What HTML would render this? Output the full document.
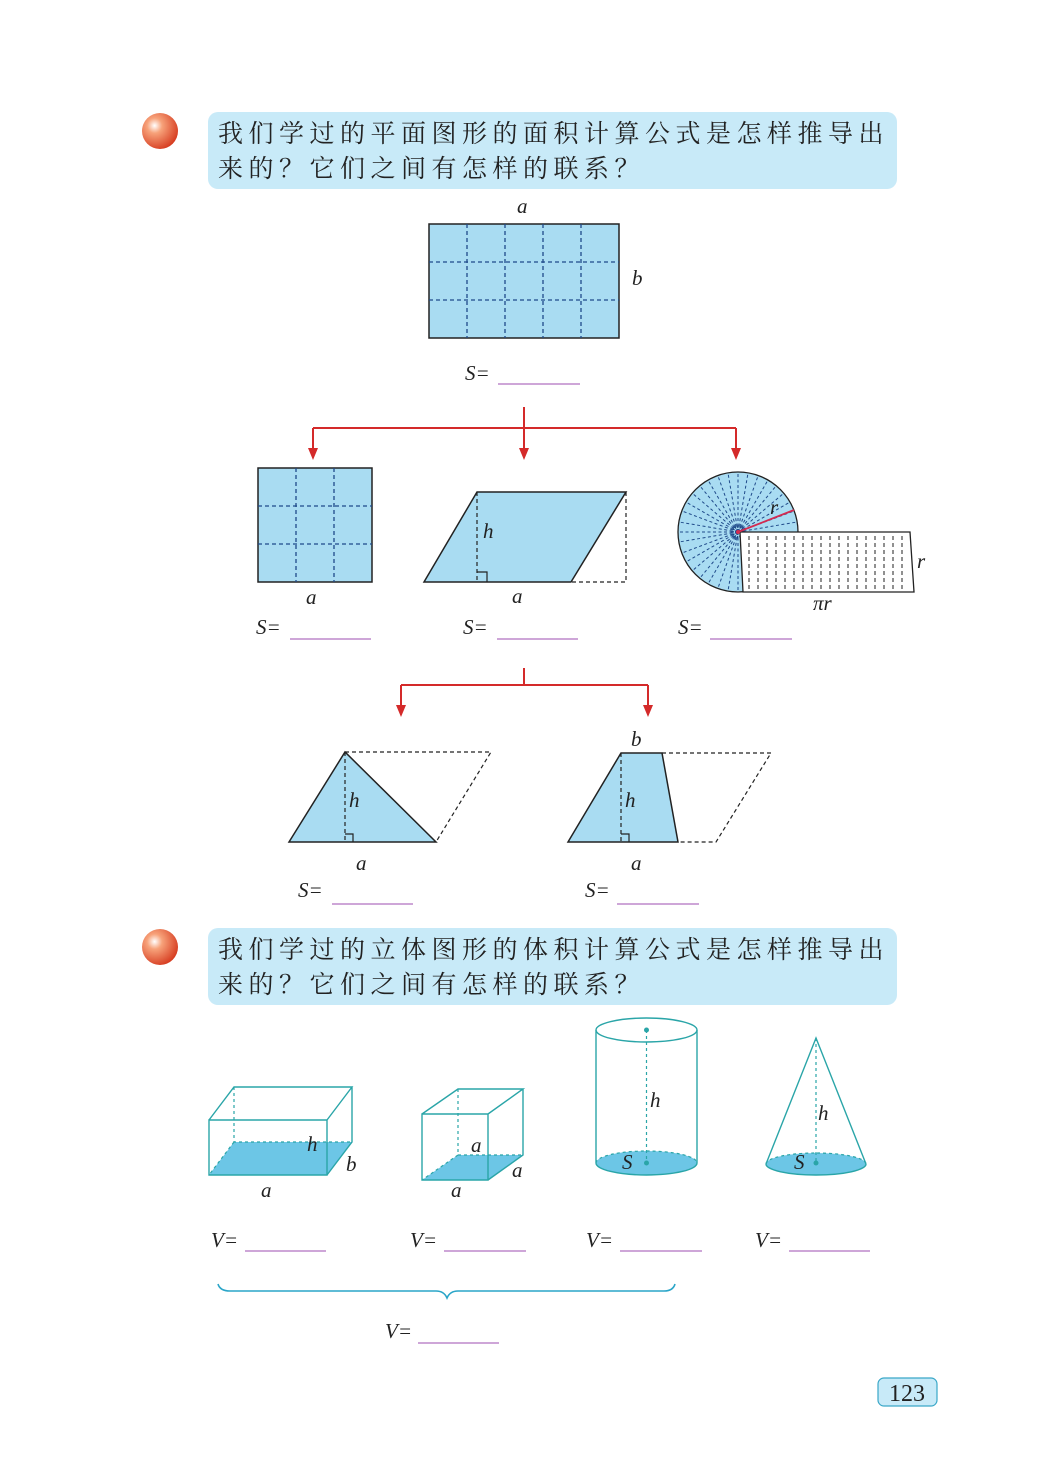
<!DOCTYPE html>
<html><head><meta charset="utf-8"><style>
html,body{margin:0;padding:0;background:#fff}
svg{display:block}
.cn{font-family:"Liberation Serif","Noto Serif CJK SC","Noto Sans CJK SC",serif;font-size:25px;fill:#222;letter-spacing:5.5px}
.l{font-family:"Liberation Serif",serif;font-style:italic;font-size:21px;fill:#222}
.g{stroke:#1f4a8a;stroke-width:1.3;stroke-dasharray:4 3;fill:none}
.d{stroke:#222;stroke-width:1.2;stroke-dasharray:4 3;fill:none}
.t{stroke:#2aa5a8;stroke-width:1.4;fill:none}
.td{stroke:#2aa5a8;stroke-width:1.2;stroke-dasharray:3 3;fill:none}
.u{stroke:#b070c0;stroke-width:1.2}
</style></head><body>
<svg width="1048" height="1474" viewBox="0 0 1048 1474" xmlns="http://www.w3.org/2000/svg">
<defs>
<radialGradient id="ball" cx="0.35" cy="0.35" r="0.7">
<stop offset="0" stop-color="#fff"/><stop offset="0.3" stop-color="#f7a27a"/><stop offset="1" stop-color="#d63c20"/>
</radialGradient>
</defs>

<circle cx="160" cy="131" r="18" fill="url(#ball)"/>
<rect x="208" y="112" width="689" height="77" rx="10" fill="#c8eaf8"/>
<text class="cn" x="218" y="142">我们学过的平面图形的面积计算公式是怎样推导出</text>
<text class="cn" x="218" y="177">来的？它们之间有怎样的联系？</text>

<rect x="429" y="224" width="190" height="114" fill="#a9dcf2" stroke="#222" stroke-width="1.5"/>
<path class="g" d="M467 224V338M505 224V338M543 224V338M581 224V338M429 262H619M429 300H619"/>
<text class="l" x="517" y="213">a</text>
<text class="l" x="632" y="285">b</text>
<text class="l" x="465" y="380">S=</text>
<line class="u" x1="498" y1="384" x2="580" y2="384"/>

<g stroke="#d42a2a" stroke-width="2" fill="none">
<path d="M524 407V452M313 428H736M313 428V452M736 428V452"/>
</g>
<g fill="#d42a2a">
<path d="M308 448L313 460L318 448Z"/><path d="M519 448L524 460L529 448Z"/><path d="M731 448L736 460L741 448Z"/>
</g>

<rect x="258" y="468" width="114" height="114" fill="#a9dcf2" stroke="#222" stroke-width="1.5"/>
<path class="g" d="M296 468V582M334 468V582M258 506H372M258 544H372"/>
<text class="l" x="306" y="604">a</text>
<text class="l" x="256" y="634">S=</text>
<line class="u" x1="290" y1="639" x2="371" y2="639"/>

<path d="M477 492H626L571 582H424Z" fill="#a9dcf2" stroke="#222" stroke-width="1.5"/>
<path class="d" d="M626 492V582H571M477 492V582"/>
<path d="M477 572H487V582" fill="none" stroke="#222" stroke-width="1.2"/>
<text class="l" x="483" y="538">h</text>
<text class="l" x="512" y="603">a</text>
<text class="l" x="463" y="634">S=</text>
<line class="u" x1="497" y1="639" x2="578" y2="639"/>

<circle cx="738" cy="532" r="60" fill="#a9dcf2" stroke="#222" stroke-width="1.3"/>
<g stroke="#1f4a8a" stroke-width="1" stroke-dasharray="3 2.5">
<path d="M738 532L798 532M738 532L797 522M738 532L794 511M738 532L790 502M738 532L784 493M738 532L776 486M738 532L768 480M738 532L758 476M738 532L748 473M738 532L738 472M738 532L728 473M738 532L718 476M738 532L708 480M738 532L700 486M738 532L692 493M738 532L686 502M738 532L682 511M738 532L679 522M738 532L678 532M738 532L679 542M738 532L682 553M738 532L686 562M738 532L692 571M738 532L700 578M738 532L708 584M738 532L718 588M738 532L728 591M738 532L738 592"/>
</g>
<circle cx="738" cy="532" r="5" fill="none" stroke="#1f4a8a" stroke-width="2" stroke-dasharray="1.5 1"/>
<path d="M740 532H910L914 592H743Z" fill="#fff" stroke="#222" stroke-width="1.3"/>
<g stroke="#222" stroke-width="1" stroke-dasharray="4 3">
<path d="M749 536V590M758 536V590M767 536V590M776 536V590M785 536V590M794 536V590M803 536V590M812 536V590M821 536V590M830 536V590M839 536V590M848 536V590M857 536V590M866 536V590M875 536V590M884 536V590M893 536V590M902 536V590"/>
</g>
<line x1="738" y1="532" x2="794" y2="510" stroke="#d42a50" stroke-width="1.8"/>
<circle cx="738" cy="532" r="2" fill="#d42a50"/>
<text class="l" x="770" y="514">r</text>
<text class="l" x="917" y="568">r</text>
<text class="l" x="813" y="610">πr</text>
<text class="l" x="678" y="634">S=</text>
<line class="u" x1="710" y1="639" x2="792" y2="639"/>

<g stroke="#d42a2a" stroke-width="2" fill="none">
<path d="M524 668V685M401 685H648M401 685V708M648 685V708"/>
</g>
<g fill="#d42a2a">
<path d="M396 705L401 717L406 705Z"/><path d="M643 705L648 717L653 705Z"/>
</g>

<path d="M289 842L345 752L436 842Z" fill="#a9dcf2" stroke="#222" stroke-width="1.5"/>
<path class="d" d="M345 752H491L436 842M345 752V842"/>
<path d="M345 834H353V842" fill="none" stroke="#222" stroke-width="1.2"/>
<text class="l" x="349" y="807">h</text>
<text class="l" x="356" y="870">a</text>
<text class="l" x="298" y="897">S=</text>
<line class="u" x1="332" y1="904" x2="413" y2="904"/>

<path d="M568 842L621 753H662L678 842Z" fill="#a9dcf2" stroke="#222" stroke-width="1.5"/>
<path class="d" d="M662 753H771L716 842H678M621 753V842"/>
<path d="M621 834H629V842" fill="none" stroke="#222" stroke-width="1.2"/>
<text class="l" x="631" y="746">b</text>
<text class="l" x="625" y="807">h</text>
<text class="l" x="631" y="870">a</text>
<text class="l" x="585" y="897">S=</text>
<line class="u" x1="617" y1="904" x2="699" y2="904"/>

<circle cx="160" cy="947" r="18" fill="url(#ball)"/>
<rect x="208" y="928" width="689" height="77" rx="10" fill="#c8eaf8"/>
<text class="cn" x="218" y="958">我们学过的立体图形的体积计算公式是怎样推导出</text>
<text class="cn" x="218" y="993">来的？它们之间有怎样的联系？</text>

<path d="M209 1175H327L352 1142H234Z" fill="#6cc6e6"/>
<path class="td" d="M234 1087V1142H352M234 1142L209 1175"/>
<path class="t" d="M209 1120H327V1175H209Z M209 1120L234 1087H352L327 1120 M352 1087V1142L327 1175"/>
<text class="l" x="307" y="1151">h</text>
<text class="l" x="346" y="1171">b</text>
<text class="l" x="261" y="1197">a</text>

<path d="M422 1180H488L523 1155H458Z" fill="#6cc6e6"/>
<path class="td" d="M458 1089V1155H523M458 1155L422 1180"/>
<path class="t" d="M422 1114H488V1180H422Z M422 1114L458 1089H523L488 1114 M523 1089V1155L488 1180"/>
<text class="l" x="471" y="1152">a</text>
<text class="l" x="512" y="1177">a</text>
<text class="l" x="451" y="1197">a</text>

<path d="M596 1163A50.5 12 0 0 0 697 1163A50.5 12 0 0 0 596 1163Z" fill="#6cc6e6"/>
<path class="td" d="M596 1163A50.5 12 0 0 1 697 1163 M646.5 1030V1163"/>
<path class="t" d="M596 1163A50.5 12 0 0 0 697 1163 M596 1030V1163M697 1030V1163"/>
<ellipse class="t" cx="646.5" cy="1030" rx="50.5" ry="12"/>
<circle cx="646.5" cy="1030" r="2.5" fill="#2aa5a8"/>
<circle cx="646.5" cy="1163" r="2.5" fill="#2aa5a8"/>
<text class="l" x="650" y="1107">h</text>
<text class="l" x="622" y="1169">S</text>

<path d="M766 1164A50 11 0 0 0 866 1164A50 11 0 0 0 766 1164Z" fill="#6cc6e6"/>
<path class="td" d="M766 1164A50 11 0 0 1 866 1164 M816 1038V1164"/>
<path class="t" d="M766 1164A50 11 0 0 0 866 1164 M766 1164L816 1038L866 1164"/>
<circle cx="816" cy="1163" r="2.5" fill="#2aa5a8"/>
<text class="l" x="818" y="1120">h</text>
<text class="l" x="794" y="1169">S</text>

<text class="l" x="211" y="1247">V=</text><line class="u" x1="245" y1="1251" x2="326" y2="1251"/>
<text class="l" x="410" y="1247">V=</text><line class="u" x1="444" y1="1251" x2="526" y2="1251"/>
<text class="l" x="586" y="1247">V=</text><line class="u" x1="620" y1="1251" x2="702" y2="1251"/>
<text class="l" x="755" y="1247">V=</text><line class="u" x1="789" y1="1251" x2="870" y2="1251"/>

<path d="M218 1284Q220 1291 230 1291H436Q444 1291 447 1298Q450 1291 458 1291H664Q673 1291 675 1284" fill="none" stroke="#2aa5c8" stroke-width="1.6"/>
<text class="l" x="385" y="1338">V=</text><line class="u" x1="418" y1="1343" x2="499" y2="1343"/>

<rect x="878" y="1378" width="59" height="28" rx="6" fill="#c8eaf8" stroke="#3aa8c8" stroke-width="1.2"/>
<text x="907" y="1401" text-anchor="middle" font-family="Liberation Serif,serif" font-size="24" fill="#222">123</text>
</svg>
</body></html>
